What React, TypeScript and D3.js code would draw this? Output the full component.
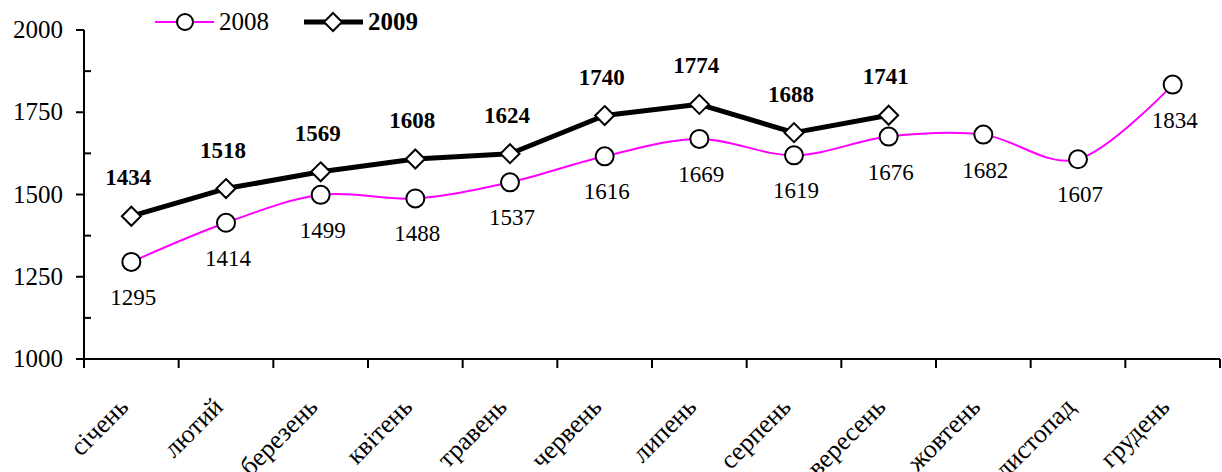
import React, { useEffect, useRef } from 'react';
import * as d3 from 'd3';

const months = ['січень', 'лютий', 'березень', 'квітень', 'травень', 'червень', 'липень', 'серпень', 'вересень', 'жовтень', 'листопад', 'грудень'];
const values2008 = [1295, 1414, 1499, 1488, 1537, 1616, 1669, 1619, 1676, 1682, 1607, 1834];
const values2009 = [1434, 1518, 1569, 1608, 1624, 1740, 1774, 1688, 1741];
const majorTicks = [1000, 1250, 1500, 1750, 2000];
const minorTicks = [1125, 1375, 1625, 1875];

const W = 1222;
const H = 472;
const FONT = '"Liberation Serif", "Times New Roman", serif';

const App: React.FC = () => {
  const svgRef = useRef<SVGSVGElement>(null);

  useEffect(() => {
    document.body.style.margin = '0';
    if (!svgRef.current) return;
    const svg = d3.select(svgRef.current);
    svg.selectAll('*').remove();

    const left = 84, right = 1220, top = 30, bottom = 359;

    const x = d3.scaleBand<string>().domain(months).range([left, right]).padding(0);
    const cx = (i: number) => (x(months[i]) as number) + x.bandwidth() / 2;
    const y = d3.scaleLinear().domain([1000, 2000]).range([bottom, top]);

    const g = svg.append('g');

    // 2008 smoothed line
    const line2008 = d3.line<number>().x((_, i) => cx(i)).y(d => y(d)).curve(d3.curveCardinal.tension(0));
    g.append('path').attr('d', line2008(values2008))
      .attr('fill', 'none').attr('stroke', '#ff00ff').attr('stroke-width', 2);

    // 2009 straight line
    const line2009 = d3.line<number>().x((_, i) => cx(i)).y(d => y(d));
    g.append('path').attr('d', line2009(values2009))
      .attr('fill', 'none').attr('stroke', '#000').attr('stroke-width', 5).attr('stroke-linejoin', 'round');

    // markers 2008
    g.selectAll('circle.m08').data(values2008).enter().append('circle')
      .attr('cx', (_, i) => cx(i)).attr('cy', d => y(d)).attr('r', 9)
      .attr('fill', '#fff').attr('stroke', '#000').attr('stroke-width', 2);

    // markers 2009
    const dsz = 9.5;
    g.selectAll('path.m09').data(values2009).enter().append('path')
      .attr('d', (d, i) => `M ${cx(i)} ${y(d) - dsz} L ${cx(i) + dsz} ${y(d)} L ${cx(i)} ${y(d) + dsz} L ${cx(i) - dsz} ${y(d)} Z`)
      .attr('fill', '#fff').attr('stroke', '#000').attr('stroke-width', 2);

    // labels 2008 (below)
    g.selectAll('text.l08').data(values2008).enter().append('text')
      .attr('x', (_, i) => cx(i) + 2).attr('y', d => y(d) + 43)
      .attr('text-anchor', 'middle').attr('font-family', FONT).attr('font-size', 23)
      .text(d => d);

    // labels 2009 (above, bold)
    g.selectAll('text.l09').data(values2009).enter().append('text')
      .attr('x', (_, i) => cx(i) - 3).attr('y', d => y(d) - 31)
      .attr('text-anchor', 'middle').attr('font-family', FONT).attr('font-size', 23).attr('font-weight', 'bold')
      .text(d => d);

    // Y axis
    g.append('line').attr('x1', left).attr('x2', left).attr('y1', top).attr('y2', bottom)
      .attr('stroke', '#000').attr('stroke-width', 2);
    majorTicks.forEach(t => {
      g.append('line').attr('x1', left - 8).attr('x2', left).attr('y1', y(t)).attr('y2', y(t))
        .attr('stroke', '#000').attr('stroke-width', 2);
      g.append('text').attr('x', 63).attr('y', y(t) + 8)
        .attr('text-anchor', 'end').attr('font-family', FONT).attr('font-size', 25).text(t);
    });
    minorTicks.forEach(t => {
      g.append('line').attr('x1', left).attr('x2', left + 7).attr('y1', y(t)).attr('y2', y(t))
        .attr('stroke', '#000').attr('stroke-width', 2);
    });

    // X axis
    g.append('line').attr('x1', left).attr('x2', right).attr('y1', bottom).attr('y2', bottom)
      .attr('stroke', '#000').attr('stroke-width', 2);
    months.forEach((m, i) => {
      const bx = x(m) as number;
      g.append('line').attr('x1', bx).attr('x2', bx).attr('y1', bottom).attr('y2', bottom + 9)
        .attr('stroke', '#000').attr('stroke-width', 2);
      g.append('text')
        .attr('transform', `translate(${cx(i) - 8},${bottom + 43}) rotate(-45)`)
        .attr('text-anchor', 'end').attr('dy', '0.35em')
        .attr('font-family', FONT).attr('font-size', 26).text(m);
    });
    g.append('line').attr('x1', right).attr('x2', right).attr('y1', bottom).attr('y2', bottom + 9)
      .attr('stroke', '#000').attr('stroke-width', 2);

    // Legend
    const ly = 22;
    g.append('line').attr('x1', 155).attr('x2', 214).attr('y1', ly).attr('y2', ly)
      .attr('stroke', '#ff00ff').attr('stroke-width', 2);
    g.append('circle').attr('cx', 185).attr('cy', ly).attr('r', 8)
      .attr('fill', '#fff').attr('stroke', '#000').attr('stroke-width', 2);
    g.append('text').attr('x', 219).attr('y', ly + 8).attr('font-family', FONT).attr('font-size', 25).text('2008');
    g.append('line').attr('x1', 304).attr('x2', 363).attr('y1', ly).attr('y2', ly)
      .attr('stroke', '#000').attr('stroke-width', 5);
    g.append('path').attr('d', `M 333 ${ly - 9} L 342 ${ly} L 333 ${ly + 9} L 324 ${ly} Z`)
      .attr('fill', '#fff').attr('stroke', '#000').attr('stroke-width', 2);
    g.append('text').attr('x', 368).attr('y', ly + 8).attr('font-family', FONT).attr('font-size', 25)
      .attr('font-weight', 'bold').text('2009');
  }, []);

  return <svg ref={svgRef} width={W} height={H} style={{ display: 'block', background: '#fff' }} />;
};

export default App;
